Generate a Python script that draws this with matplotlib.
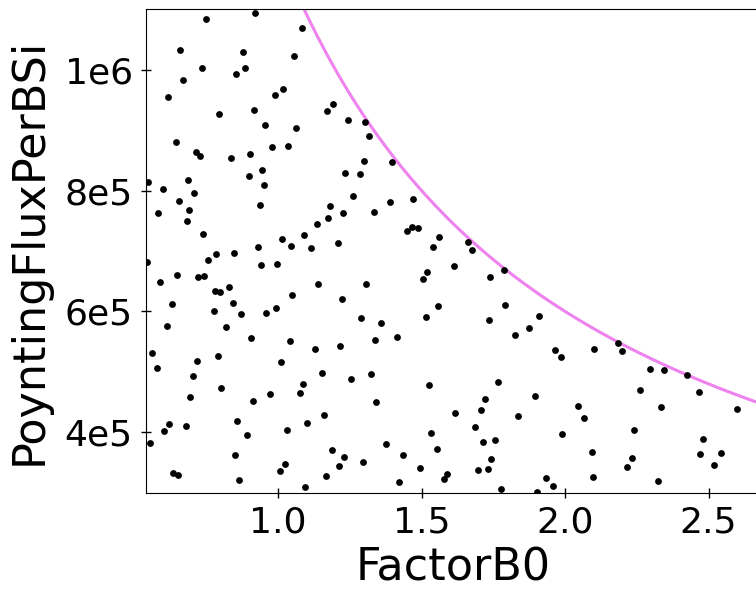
import numpy as np
import matplotlib
matplotlib.use("Agg")
import matplotlib.pyplot as plt

# values
factor_b0 = [
    0.748, 0.919, 1.084, 0.660, 0.877, 1.057, 0.734, 0.885, 0.855, 0.669,
    1.018, 0.989, 0.618, 0.915, 0.794, 1.192, 1.170, 0.954, 1.062, 0.644,
    0.713, 0.729, 0.837, 0.902, 0.980, 1.036, 0.945, 0.548, 0.599, 0.686,
    0.707, 0.656, 0.691, 0.583, 0.682, 0.898, 0.950, 0.937, 1.182, 1.225,
    1.174, 1.135, 0.738, 1.015, 1.092, 1.045, 1.114, 1.208, 0.931, 0.785,
    0.755, 0.847, 0.545, 0.941, 0.997, 0.648, 0.720, 0.742, 0.588, 0.780,
    0.799, 0.828, 1.140, 1.049, 1.222, 0.631, 0.842, 0.777, 0.872, 0.958,
    0.993, 0.613, 0.819, 0.907, 1.041, 1.130, 1.217, 0.561, 0.578, 0.717,
    0.790, 1.010, 1.152, 0.703, 1.087, 0.802, 1.078, 0.694, 0.912, 0.972,
    1.160, 0.858, 1.101, 0.621, 0.678, 0.604, 1.031, 0.893, 0.553, 1.187,
    1.230, 0.850, 1.023, 1.006, 1.213, 0.633, 0.653, 1.166, 0.863, 1.095,
    1.243, 1.303, 1.317, 1.299, 1.398, 1.234, 1.286, 1.260, 1.389, 1.471,
    1.333, 1.449, 1.467, 1.489, 1.562, 1.541, 1.661, 1.675, 1.614, 1.786,
    1.740, 1.519, 1.506, 1.308, 1.557, 1.791, 1.290, 1.360, 1.515, 1.735,
    1.908, 1.874, 1.825, 1.338, 1.416, 1.255, 1.325, 1.527, 1.766, 1.343,
    1.722, 1.708, 1.618, 1.895, 1.835, 1.687, 1.532, 1.377, 1.713, 1.756,
    1.554, 1.295, 1.437, 1.494, 1.743, 1.696, 1.731, 1.589, 1.579, 1.421,
    1.775, 1.903, 2.184, 2.198, 1.964, 1.986, 2.102, 2.296, 2.344, 2.425,
    2.466, 2.261, 2.598, 2.334, 2.046, 2.067, 2.240, 1.990, 2.481, 2.093,
    2.469, 2.543, 2.232, 2.214, 2.520, 1.934, 1.959, 2.098, 2.322,
]
poynting_flux = [
    1083700, 1093600, 1069400, 1033000, 1029700, 1023000, 1003600, 1002500, 992500, 983300,
    968400, 958900, 955600, 933600, 926900, 942800, 931900, 909200, 903100, 880500,
    864500, 856700, 853400, 861100, 872700, 873900, 834100, 814700, 802000, 818000,
    795400, 782800, 768400, 763400, 749000, 824700, 808600, 776600, 775000, 762200,
    753900, 744700, 728600, 720300, 726400, 708700, 704200, 713700, 707000, 694300,
    685000, 696000, 682200, 677200, 678400, 660600, 656200, 659000, 647900, 633600,
    632000, 640300, 644600, 627500, 621400, 612600, 614300, 601500, 596500, 598200,
    606500, 576100, 574500, 556800, 551800, 537500, 542500, 531400, 507000, 518100,
    526400, 516500, 498800, 492800, 480000, 473400, 465600, 459000, 451400, 464000,
    428700, 419200, 415900, 414300, 410900, 401700, 403300, 395000, 382300, 371200,
    359600, 361900, 347000, 335900, 344200, 332600, 329200, 328100, 321000, 308900,
    917500, 914200, 889800, 849500, 847900, 829200, 827500, 791100, 781100, 786100,
    765000, 733600, 739700, 737400, 723600, 705900, 715300, 700900, 675600, 668900,
    657800, 664500, 653500, 646200, 609800, 611400, 588900, 581100, 590600, 585600,
    592200, 573300, 561700, 553400, 558400, 487800, 496100, 478400, 482900, 449700,
    455700, 436500, 432000, 460600, 427000, 409300, 398300, 380600, 383400, 387200,
    372800, 350300, 362900, 340800, 355300, 337000, 338700, 331400, 322600, 317600,
    306500, 301100, 547500, 534700, 535900, 524800, 538500, 505400, 503700, 494900,
    466800, 470100, 438100, 441400, 443100, 423700, 404300, 396700, 388400, 367400,
    364500, 366200, 356900, 342000, 345300, 324800, 310500, 325900, 319300,
]

# the violet bound  y = C / x
bound_const = 1.2e6

y_ticks = [4e5, 6e5, 8e5, 1e6]
y_tick_labels = ["4e5", "6e5", "8e5", "1e6"]
x_ticks = [1.0, 1.5, 2.0, 2.5]

fig = plt.figure(figsize=(7.56, 5.9), dpi=100)
ax = fig.add_axes([0.1931, 0.1649, 0.8122, 0.8193])

ax.scatter(factor_b0, poynting_flux, s=24, c="black", linewidths=0, zorder=3)

xs = np.linspace(0.5, 2.8, 400)
ax.plot(xs, bound_const / xs, color="violet", linewidth=2.2, zorder=2)

ax.set_xlim(0.540, 2.679)
ax.set_ylim(3.0e5, 1.1e6)
ax.set_xticks(x_ticks)
ax.set_yticks(y_ticks)
ax.set_yticklabels(y_tick_labels)

ax.tick_params(direction="inout", length=7, width=1, labelsize=26, pad=6)
ax.set_xlabel("FactorB0", fontsize=32, labelpad=5)
ax.set_ylabel("PoyntingFluxPerBSi", fontsize=32, labelpad=10)

fig.savefig("out.png", dpi=100)
